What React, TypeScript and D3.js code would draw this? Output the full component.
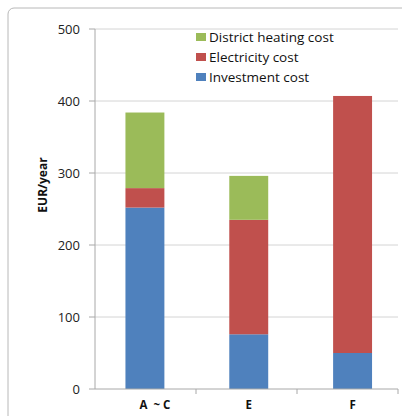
import React from "react";
import * as d3 from "d3";

const categories = ["A ~ C", "E", "F"];
const investmentCost = [252, 76, 50];
const electricityCost = [27, 159, 357];
const districtHeatingCost = [105, 61, 0];
const seriesNames = ["Investment cost", "Electricity cost", "District heating cost"];
const seriesColors = ["#4F81BD", "#C0504D", "#9BBB59"];
const yTicks = [0, 100, 200, 300, 400, 500];

const W = 402;
const H = 416;
const left = 95;
const right = 398;
const top = 29;
const bottom = 389;
const font = "'Open Sans', 'DejaVu Sans', sans-serif";

export default function App() {
  const data = categories.map((c, i) => ({
    cat: c,
    "Investment cost": investmentCost[i],
    "Electricity cost": electricityCost[i],
    "District heating cost": districtHeatingCost[i],
  }));
  const stack = d3.stack<any>().keys(seriesNames)(data);
  // axis band scale (category boundaries)
  const xAxis = d3.scaleBand().domain(categories).range([left, right]);
  // bar placement scale
  const x = d3
    .scaleBand()
    .domain(categories)
    .range([93, 404.5])
    .paddingInner(0.625)
    .paddingOuter(0.3125);
  const y = d3.scaleLinear().domain([0, 500]).range([bottom, top]);
  const boundaries = categories.map((c) => (xAxis(c) as number) + xAxis.step());
  const legendOrder = [2, 1, 0];

  return (
    <svg
      width={W}
      height={H}
      style={{ position: "absolute", left: 0, top: 0, background: "#fff" }}
    >
      <rect x={8} y={8} width={420} height={440} rx={6} fill="#fff" stroke="#b8b8b8" strokeWidth={1} />
      {yTicks.map((t) => (
        <g key={t}>
          {t > 0 && (
            <line x1={left} x2={right} y1={y(t)} y2={y(t)} stroke="#d4d4d4" strokeWidth={1} />
          )}
          <line x1={left - 6} x2={left} y1={y(t)} y2={y(t)} stroke="#a8a8a8" strokeWidth={1} />
          <text
            x={80}
            y={y(t)}
            dy="0.35em"
            textAnchor="end"
            fontFamily={font}
            fontSize={13}
            fill="#222"
          >
            {t}
          </text>
        </g>
      ))}
      {stack.map((s, si) =>
        s.map((d, i) =>
          d[1] - d[0] > 0 ? (
            <rect
              key={si + "-" + i}
              x={x(categories[i])}
              width={x.bandwidth()}
              y={y(d[1])}
              height={y(d[0]) - y(d[1])}
              fill={seriesColors[si]}
            />
          ) : null
        )
      )}
      <line x1={left} x2={left} y1={top} y2={bottom} stroke="#a8a8a8" strokeWidth={1} />
      <line x1={left} x2={right} y1={bottom} y2={bottom} stroke="#a8a8a8" strokeWidth={1} />
      {boundaries.map((b, i) => (
        <line key={i} x1={b} x2={b} y1={bottom} y2={bottom + 5} stroke="#a8a8a8" strokeWidth={1} />
      ))}
      {categories.map((c) => (
        <text
          key={c}
          x={(x(c) as number) + x.bandwidth() / 2 + (c === "A ~ C" ? 10 : 0)}
          y={405}
          dy="0.35em"
          textAnchor="middle"
          fontFamily={font}
          fontWeight="bold"
          fontSize={11.5}
          fill="#111"
          style={{ whiteSpace: "pre" }}
        >
          {c === "A ~ C" ? "A  ~ C" : c}
        </text>
      ))}
      <text
        transform={`translate(43,185) rotate(-90)`}
        textAnchor="middle"
        dy="0.35em"
        fontFamily={font}
        fontWeight="bold"
        fontSize={12}
        fill="#111"
      >
        EUR/year
      </text>
      {legendOrder.map((si, k) => (
        <g key={si} transform={`translate(196,${37 + k * 20})`}>
          <rect x={0} y={-4} width={10} height={8} fill={seriesColors[si]} />
          <text x={13} y={0} dy="0.35em" fontFamily={font} fontSize={13.5} fill="#111">
            {seriesNames[si]}
          </text>
        </g>
      ))}
    </svg>
  );
}
